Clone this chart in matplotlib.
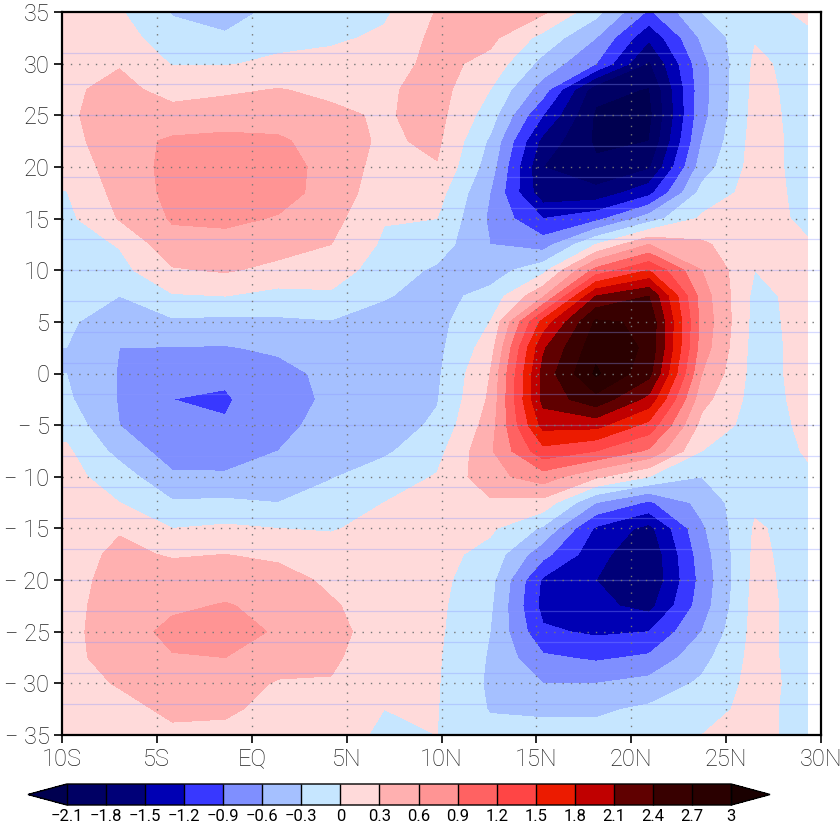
import numpy as np
import matplotlib
matplotlib.use("Agg")
import matplotlib.pyplot as plt
from matplotlib.colors import ListedColormap, BoundaryNorm

# gaussian latitudes (T42) along x, lag (days) along y
lats = [-9.767, -6.977, -4.186, -1.395, 1.395, 4.186, 6.977, 9.767,
        12.558, 15.349, 18.139, 20.930, 23.720, 26.511, 29.302]
lags = np.linspace(35, -35, 29)

# one list per latitude, lag 35 -> -35 every 2.5
c00 = [0.1, 0.15, 0.2, 0.25, 0.25, 0.2, 0.1, -0.01, -0.08, -0.15, -0.2, -0.22, -0.27, -0.3, -0.3,
       -0.25, -0.1, 0.05, 0.1, 0.12, 0.12, 0.15, 0.2, 0.22, 0.22, 0.22, 0.2, 0.18, 0.15]
c01 = [0.03, 0.15, 0.28, 0.38, 0.45, 0.47, 0.45, 0.4, 0.32, 0.02, -0.1, -0.3, -0.4, -0.6, -0.62,
       -0.62, -0.6, -0.4, -0.15, 0.0, 0.27, 0.37, 0.4, 0.42, 0.45, 0.42, 0.32, 0.22, 0.15]
c02 = [-0.32, -0.2, -0.02, 0.2, 0.4, 0.65, 0.68, 0.68, 0.63, 0.5, 0.27, -0.03, -0.35, -0.61, -0.75,
       -0.9, -0.87, -0.75, -0.55, -0.27, 0.0, 0.27, 0.45, 0.55, 0.68, 0.58, 0.45, 0.35, 0.25]
c03 = [-0.45, -0.25, -0.02, 0.25, 0.45, 0.68, 0.75, 0.75, 0.66, 0.5, 0.33, 0.0, -0.38, -0.62, -0.85,
       -0.93, -0.88, -0.78, -0.55, -0.25, 0.05, 0.3, 0.48, 0.62, 0.78, 0.6, 0.45, 0.35, 0.22]
c04 = [-0.2, -0.08, 0.05, 0.31, 0.45, 0.65, 0.72, 0.7, 0.58, 0.42, 0.22, -0.1, -0.35, -0.55, -0.7,
       -0.72, -0.68, -0.6, -0.45, -0.3, 0.0, 0.25, 0.4, 0.52, 0.55, 0.45, 0.27, 0.2, 0.15]
c05 = [-0.15, -0.05, 0.1, 0.25, 0.35, 0.45, 0.5, 0.5, 0.4, 0.3, 0.15, -0.05, -0.32, -0.45, -0.52,
       -0.55, -0.5, -0.42, -0.32, -0.15, -0.02, 0.12, 0.25, 0.33, 0.38, 0.35, 0.28, 0.2, 0.12]
c06 = [-0.05, 0.05, 0.15, 0.25, 0.27, 0.25, 0.18, 0.1, 0.02, -0.05, -0.15, -0.28, -0.4, -0.45, -0.45,
       -0.45, -0.45, -0.35, -0.15, 0.0, 0.08, 0.12, 0.15, 0.17, 0.18, 0.12, 0.05, 0.0, -0.05]
c07 = [0.32, 0.38, 0.4, 0.42, 0.4, 0.36, 0.28, 0.12, 0.0, -0.15, -0.35, -0.4, -0.4, -0.38, -0.35,
       -0.32, -0.25, -0.1, 0.02, 0.08, 0.1, 0.1, 0.08, 0.06, 0.05, 0.03, 0.02, 0.01, 0.0]
c08 = [0.45, 0.38, 0.2, 0.0, -0.15, -0.35, -0.45, -0.6, -0.65, -0.6, -0.45, -0.2, 0.0, 0.15, 0.3,
       0.35, 0.45, 0.55, 0.5, 0.25, 0.05, -0.1, -0.2, -0.25, -0.3, -0.33, -0.35, -0.32, -0.2]
c09 = [0.35, -0.1, -0.4, -0.75, -1.2, -1.6, -1.8, -1.7, -1.2, -0.75, -0.1, 0.55, 1.6, 2.05, 2.2,
       2.2, 1.9, 1.4, 0.75, 0.2, -0.35, -0.8, -1.25, -1.3, -1.15, -0.85, -0.6, -0.35, -0.2]
c10 = [-0.2, -0.6, -0.9, -2.0, -2.15, -2.15, -2.05, -1.7, -1.0, 0.0, 1.0, 2.1, 2.75, 2.9, 3.05,
       2.6, 1.9, 1.2, 0.35, -0.6, -1.25, -1.4, -1.5, -1.42, -1.25, -0.95, -0.6, -0.35, -0.2]
c11 = [-0.95, -1.45, -1.85, -2.12, -2.2, -2.1, -1.85, -1.3, -0.45, 0.6, 1.5, 2.4, 2.65, 2.65, 2.5,
       2.0, 1.4, 0.85, 0.0, -0.95, -1.6, -1.75, -1.78, -1.6, -1.2, -0.85, -0.5, -0.25, -0.15]
c12 = [-0.3, -0.55, -0.7, -0.72, -0.7, -0.6, -0.45, -0.2, 0.05, 0.35, 0.6, 0.75, 0.8, 0.75, 0.6,
       0.4, 0.2, 0.0, -0.3, -0.5, -0.65, -0.75, -0.8, -0.75, -0.6, -0.4, -0.25, -0.1, 0.0]
c13 = [-0.1, -0.02, 0.05, 0.08, 0.1, 0.12, 0.12, 0.12, 0.1, 0.08, 0.0, -0.08, -0.1, -0.12, -0.12,
       -0.12, -0.12, -0.12, -0.1, -0.05, 0.03, 0.06, 0.08, 0.1, 0.1, 0.1, 0.1, 0.08, 0.08]
c14 = [0.05, -0.05, -0.1, -0.1, -0.1, -0.1, -0.1, -0.08, -0.05, 0.02, 0.08, 0.1, 0.1, 0.1, 0.1,
       0.08, 0.05, 0.02, -0.03, -0.08, -0.1, -0.12, -0.12, -0.12, -0.12, -0.12, -0.1, -0.1, -0.1]

levels = [-2.1, -1.8, -1.5, -1.2, -0.9, -0.6, -0.3, 0, 0.3, 0.6, 0.9, 1.2, 1.5, 1.8,
          2.1, 2.4, 2.7, 3]
level_labels = ['\u22122.1', '\u22121.8', '\u22121.5', '\u22121.2', '\u22120.9', '\u22120.6',
                '\u22120.3', '0', '0.3', '0.6', '0.9', '1.2', '1.5', '1.8', '2.1', '2.4',
                '2.7', '3']
colors = ['#000064', '#000078', '#0000b4', '#3838ff', '#7f8fff', '#a5c0ff', '#c6e6ff',
          '#ffdada', '#ffb0b0', '#ff9494', '#ff6262', '#ff4545', '#ec1b00', '#c00000',
          '#600000', '#380000', '#2a0000']
under_color = '#000050'
over_color = '#1a0000'

plt.rcParams['font.family'] = ['Roboto', 'DejaVu Sans']
plt.rcParams['font.weight'] = 'light'

X = np.array(lats)
Y = np.array(lags)
Z = np.array([c00, c01, c02, c03, c04, c05, c06, c07, c08, c09, c10, c11, c12, c13, c14]).T
# repeat the first column just west of 10S so the shading reaches the frame
X = np.concatenate([[-12.558], X])
Z = np.hstack([Z[:, :1], Z])

cmap = ListedColormap(colors)
cmap.set_under(under_color)
cmap.set_over(over_color)
norm = BoundaryNorm(levels, cmap.N)

fig = plt.figure(figsize=(8.4, 8.24), dpi=100)
ax = fig.add_axes([62/840, 89/824, 759/840, 723/824])
cf = ax.contourf(X, Y, Z, levels=levels, cmap=cmap, norm=norm, extend='both')

# faint horizontal lines through the field
for y in range(31, -35, -3):
    ax.axhline(y, color='#8c96ff', lw=0.9, alpha=0.35, zorder=2)

ax.set_xlim(-10, 30)
ax.set_ylim(-35, 35)
ax.set_xticks(range(-10, 31, 5))
ax.set_xticklabels(['10S', '5S', 'EQ', '5N', '10N', '15N', '20N', '25N', '30N'])
ax.set_yticks(range(-35, 36, 5))
ax.set_yticklabels([str(v).replace('-', '\u2212 ') for v in range(-35, 36, 5)])
ax.tick_params(direction='out', length=6, width=1.2, labelsize=17, pad=3,
               top=False, right=False, labelcolor='#222222')
for g in range(-5, 30, 5):
    ax.axvline(g, color='#777777', lw=1, ls=(0, (1, 5)), zorder=3)
for g in range(-30, 35, 5):
    ax.axhline(g, color='#777777', lw=1, ls=(0, (1, 5)), zorder=3)
for s in ax.spines.values():
    s.set_linewidth(1.6)
    s.set_zorder(5)

cax = fig.add_axes([28/840, 19/824, 742/840, 21/824])
cb = fig.colorbar(cf, cax=cax, orientation='horizontal', extendfrac=0.0586,
                  drawedges=True, ticks=levels)
cb.ax.set_xticklabels(level_labels, fontweight='normal')
cb.ax.tick_params(length=0, labelsize=12, pad=3, labelcolor='#000000')
cb.outline.set_linewidth(1.0)
cb.dividers.set_linewidth(1.0)

fig.savefig('out.png', dpi=100)
